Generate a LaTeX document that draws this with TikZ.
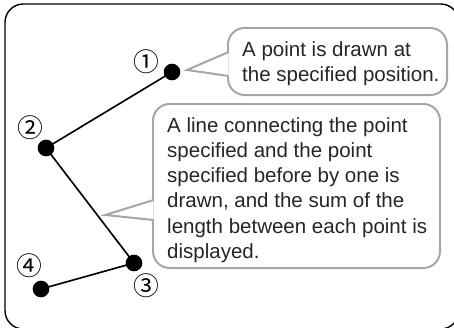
\documentclass[tikz,border=0pt]{standalone}
\usepackage{fontspec}
\setmainfont{Liberation Sans}
\newfontfamily\numfont{Noto Sans CJK JP}
\begin{document}
\begin{tikzpicture}[x=0.03cm,y=-0.03cm,
    pt/.style={circle,fill=black,inner sep=0pt,minimum size=0.5cm},
    num/.style={inner sep=0pt,font=\numfont\fontsize{22}{22}\selectfont},
    bubble/.style={draw=gray!70,line width=1.7pt,rounded corners=0.5cm,fill=white,inner sep=0pt},
    words/.style={align=left,inner sep=0pt,text=black!85,font=\fontsize{17.5}{21.5}\selectfont},
    tail/.style={draw=gray!70,line width=1.7pt,fill=white,line join=miter}]
    \useasboundingbox (0,0) rectangle (454,327);
    \draw[line width=1.2pt,rounded corners=0.55cm] (5,4) rectangle (459,329);
    % points
    \node[pt] (p1) at (172,72) {};
    \node[pt] (p2) at (46,148) {};
    \node[pt] (p3) at (134,263) {};
    \node[pt] (p4) at (41,289) {};
    \draw[line width=1.4pt] (p1.center) -- (p2.center) -- (p3.center) -- (p4.center);
    \node[num] (n1) at (146,62) {①};
    \node[num] (n2) at (30,128) {②};
    \node[num] (n3) at (146,286) {③};
    \node[num] (n4) at (29,266) {④};
    % callouts
    \node[bubble,minimum width=6.57cm,minimum height=2.01cm] (b1) at (337.5,61.5) {};
    \coordinate (tip1) at (187,70);
    \path[tail] ([xshift=0.05cm,yshift=0.285cm]b1.west) -- (tip1) -- ([xshift=0.05cm,yshift=-0.435cm]b1.west);
    \node[words,anchor=west] (t1) at (242,64) {A point is drawn at\\the specified position.};
    \node[bubble,minimum width=8.61cm,minimum height=4.92cm] (b2) at (296.5,186) {};
    \coordinate (tip2) at (105,215);
    \path[tail] ([xshift=0.05cm,yshift=-0.42cm]b2.west) -- (tip2) -- ([xshift=0.05cm,yshift=-1.02cm]b2.west);
    \node[words,anchor=west] (t2) at (167,190) {A line connecting the point\\specified and the point\\specified before by one is\\drawn, and the sum of the\\length between each point is\\displayed.};
\end{tikzpicture}
\end{document}
